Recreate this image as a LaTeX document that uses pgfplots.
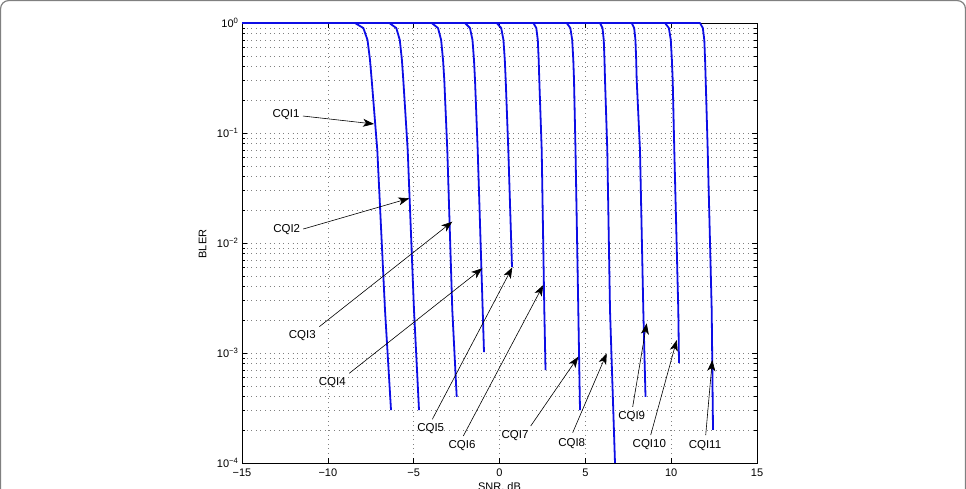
\documentclass[border=0pt]{standalone}
\usepackage{fontspec}
\setmainfont{Liberation Sans}
\usepackage{pgfplots}
\pgfplotsset{compat=1.18}
\usetikzlibrary{arrows.meta}
\definecolor{curveblue}{rgb}{0.05,0.05,0.9}
\tikzset{cq/.style={curveblue, solid, line width=1.8pt, line join=round, mark=none}}
\begin{document}
\begin{tikzpicture}[x=1pt,y=1pt]
\useasboundingbox (0,0) rectangle (966,488);
\draw[black!50, line width=1.2pt, rounded corners=8pt] (0.6,-30) rectangle (965.4,487.4);
\begin{axis}[
  at={(242pt,25pt)}, anchor=south west,
  scale only axis, width=515pt, height=440pt,
  xmin=-15, xmax=15, ymin=1e-4, ymax=1,
  ymode=log, clip=false,
  font=\fontsize{11}{13}\selectfont,
  xtick={-15,-10,...,15},
  xticklabels={−15,−10,−5,0,5,10,15},
  ytick={1e-4,1e-3,1e-2,1e-1,1},
  yticklabels={10\textsuperscript{−4},10\textsuperscript{−3},10\textsuperscript{−2},10\textsuperscript{−1},10\textsuperscript{0}},
  xticklabel style={yshift=-2pt},
  tick align=inside,
  major tick length=5pt, minor tick length=3pt,
  tick style={black, line width=0.6pt},
  axis line style={black, line width=0.8pt},
  xmajorgrids, ymajorgrids, yminorgrids,
  major grid style={black!50, line width=0.6pt, dash pattern=on 0.8pt off 3.8pt},
  minor grid style={black!50, line width=0.6pt, dash pattern=on 0.8pt off 3.8pt},
  xlabel={SNR, dB}, ylabel={BLER},
  xlabel style={at={(axis description cs:0.5,-0.0432)}, anchor=north, inner sep=0pt},
  ylabel style={at={(axis description cs:-0.0763,0.4977)}, anchor=center},
]
\addplot[cq] coordinates {(-15,1) (-8.418,1) (-7.931,0.9005) (-7.689,0.7005) (-7.544,0.461) (-7.445,0.3033) (-7.119,0.0701) (-6.670,0.00246) (-6.320,3.03e-4)};
\addplot[cq] coordinates {(-15,1) (-6.419,1) (-6.012,0.9005) (-5.808,0.7005) (-5.685,0.461) (-5.604,0.3033) (-5.348,0.0701) (-4.981,0.00246) (-4.689,3.03e-4)};
\addplot[cq] coordinates {(-15,1) (-3.950,1) (-3.583,0.9005) (-3.399,0.7005) (-3.289,0.461) (-3.216,0.3033) (-3.041,0.0701) (-2.750,0.00246) (-2.493,4.0e-4)};
\addplot[cq] coordinates {(-15,1) (-2.010,1) (-1.719,0.9005) (-1.573,0.7005) (-1.486,0.461) (-1.427,0.3033) (-1.270,0.0701) (-0.979,0.00246) (-0.903,1.02e-3)};
\addplot[cq] coordinates {(-15,1) (-0.163,1) (0.099,0.9005) (0.230,0.7005) (0.309,0.461) (0.361,0.3033) (0.513,0.0701) (0.728,6.05e-3)};
\addplot[cq] coordinates {(-15,1) (1.969,1) (2.144,0.9005) (2.231,0.7005) (2.283,0.461) (2.318,0.3033) (2.458,0.0701) (2.610,0.00246) (2.680,7.0e-4)};
\addplot[cq] coordinates {(-15,1) (3.914,1) (4.127,0.9005) (4.235,0.7005) (4.299,0.461) (4.340,0.3033) (4.427,0.0701) (4.590,0.00246) (4.689,3.03e-4)};
\addplot[cq] coordinates {(-15,1) (5.854,1) (6.000,0.9005) (6.073,0.7005) (6.116,0.461) (6.146,0.3033) (6.279,0.0701) (6.437,0.00246) (6.728,1e-4)};
\addplot[cq] coordinates {(-15,1) (7.701,1) (7.846,0.9005) (7.919,0.7005) (7.963,0.461) (7.992,0.3033) (8.184,0.0701) (8.377,0.00246) (8.505,4.0e-4)};
\addplot[cq] coordinates {(-15,1) (9.641,1) (9.865,0.9005) (9.978,0.7005) (10.042,0.461) (10.089,0.3033) (10.182,0.0701) (10.415,0.00246) (10.456,8.1e-4)};
\addplot[cq] coordinates {(-15,1) (11.679,1) (11.845,0.9005) (11.930,0.7005) (11.976,0.461) (12.011,0.3033) (12.128,0.0701) (12.361,0.00246) (12.437,2.0e-4)};
\tikzset{lab/.style={font=\fontsize{11.5}{13}\selectfont, inner sep=0pt}, arr/.style={black, line width=0.6pt, -{Stealth[length=11pt,width=8pt,inset=3pt]}}}
\node[lab] at (axis description cs:0.0854,0.7925) {CQI1};
\draw[arr] (axis description cs:0.1184,0.7886) -- (axis description cs:0.2563,0.7705);
\node[lab] at (axis description cs:0.0868,0.5295) {CQI2};
\draw[arr] (axis description cs:0.1190,0.5318) -- (axis description cs:0.3249,0.6016);
\node[lab] at (axis description cs:0.1171,0.2893) {CQI3};
\draw[arr] (axis description cs:0.1501,0.3098) -- (axis description cs:0.4083,0.5484);
\node[lab] at (axis description cs:0.1753,0.1825) {CQI4};
\draw[arr] (axis description cs:0.2083,0.2039) -- (axis description cs:0.4666,0.4425);
\node[lab] at (axis description cs:0.3664,0.0773) {CQI5};
\draw[arr] (axis description cs:0.3695,0.0993) -- (axis description cs:0.5249,0.4448);
\node[lab] at (axis description cs:0.4272,0.0393) {CQI6};
\draw[arr] (axis description cs:0.4297,0.0614) -- (axis description cs:0.5850,0.4045);
\node[lab] at (axis description cs:0.5301,0.0620) {CQI7};
\draw[arr] (axis description cs:0.5606,0.0841) -- (axis description cs:0.6530,0.2416);
\node[lab] at (axis description cs:0.6402,0.0448) {CQI8};
\draw[arr] (axis description cs:0.6421,0.0689) -- (axis description cs:0.7082,0.2493);
\node[lab] at (axis description cs:0.7567,0.1052) {CQI9};
\draw[arr] (axis description cs:0.7586,0.1277) -- (axis description cs:0.7858,0.3175);
\node[lab] at (axis description cs:0.7909,0.0409) {CQI10};
\draw[arr] (axis description cs:0.7936,0.0636) -- (axis description cs:0.8441,0.2795);
\node[lab] at (axis description cs:0.8990,0.0393) {CQI11};
\draw[arr] (axis description cs:0.9004,0.0636) -- (axis description cs:0.9132,0.2341);
\end{axis}
\end{tikzpicture}
\end{document}
